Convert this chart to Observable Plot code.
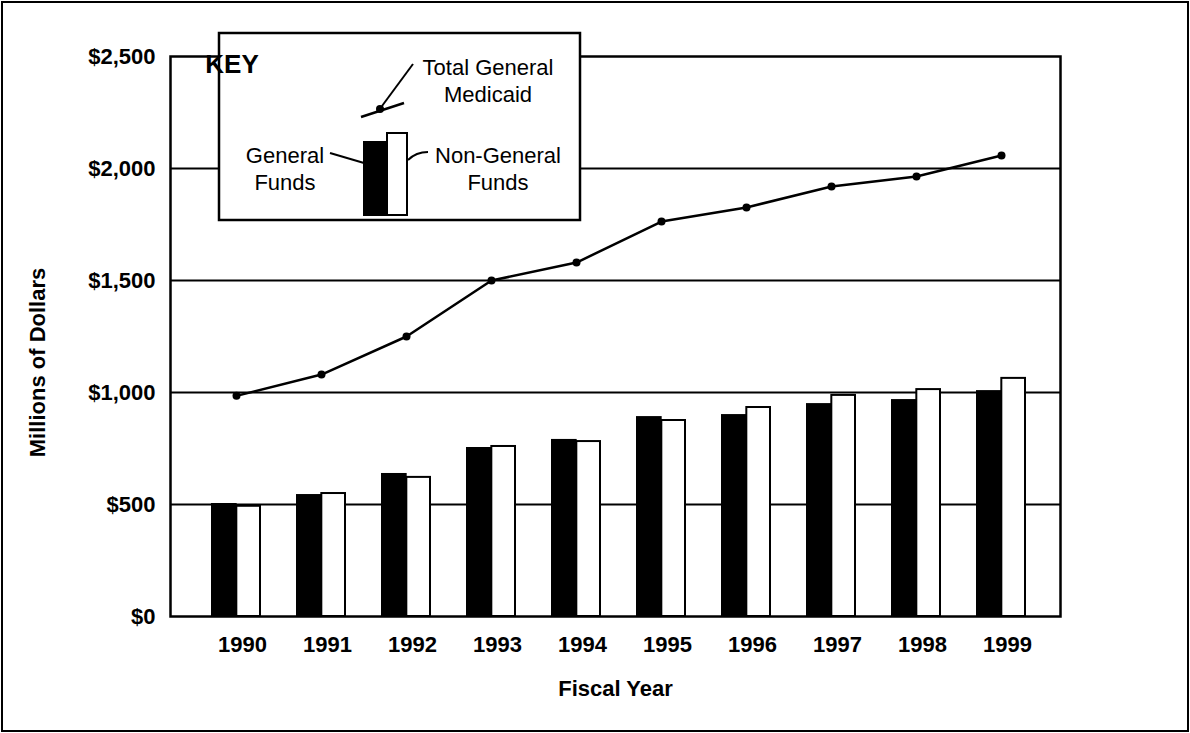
<!DOCTYPE html>
<html><head><meta charset="utf-8">
<script src="https://cdn.jsdelivr.net/npm/d3@7"></script>
<script src="https://cdn.jsdelivr.net/npm/@observablehq/plot@0.6"></script>
<style>
body{margin:0;background:#fff;}
#wrap{position:relative;width:1190px;height:733px;overflow:hidden;background:#fff;}
#border{position:absolute;left:1px;top:1px;width:1184px;height:727px;border:2px solid #000;pointer-events:none;}
svg{display:block;}
</style></head><body><div id="wrap"><div id="border"></div></div>
<script>
// ---- data ----
const years = [1990, 1991, 1992, 1993, 1994, 1995, 1996, 1997, 1998, 1999];
const generalFunds = [500, 540, 634, 750, 786, 888, 897, 946, 964, 1004];
const nonGeneralFunds = [492, 549, 621, 759, 781, 875, 933, 987, 1013, 1063];
const totalGeneralMedicaid = [985, 1080, 1250, 1500, 1580, 1763, 1826, 1920, 1964, 2058];
const yTicks = [0, 500, 1000, 1500, 2000, 2500];
const gridValues = [500, 1000, 1500, 2000];
const xTitle = "Fiscal Year";
const yTitle = "Millions of Dollars";
const keyTitle = "KEY";
const keyTotal = ["Total General", "Medicaid"];
const keyGeneral = ["General", "Funds"];
const keyNonGeneral = ["Non-General", "Funds"];

const FONT = '"Liberation Sans", Arial, Helvetica, sans-serif';

const genRows = years.map((y, i) => ({year: y, value: generalFunds[i]}));
const nonRows = years.map((y, i) => ({year: y, value: nonGeneralFunds[i]}));
const totRows = years.map((y, i) => ({year: y, value: totalGeneralMedicaid[i]}));

const xRange = [174, 1064];
const xPad = 0.43;
const half = d3.scaleBand().domain(years).range(xRange).padding(xPad).bandwidth() / 2;

const chart = Plot.plot({
  width: 1190, height: 733,
  marginLeft: 170, marginRight: 130, marginTop: 56, marginBottom: 117,
  style: {fontFamily: FONT, fontSize: "22px", fontWeight: "bold", color: "#000", background: "transparent"},
  x: {type: "band", domain: years, range: xRange, padding: xPad, label: null},
  y: {domain: [0, 2500], label: null},
  marks: [
    Plot.gridY(gridValues, {stroke: "#000", strokeOpacity: 1, strokeWidth: 2}),
    Plot.frame({stroke: "#000", strokeWidth: 2.5}),
    Plot.axisY(yTicks, {tickSize: 0, tickPadding: 15, tickFormat: d => "$" + d3.format(",")(d), fontSize: 22}),
    Plot.axisX({tickSize: 0, tickPadding: 20, dx: 6, tickFormat: d => String(d), fontSize: 22}),
    Plot.barY(genRows, {x: "year", y: "value", fill: "#000", stroke: "#000", strokeWidth: 2, insetRight: half}),
    Plot.barY(nonRows, {x: "year", y: "value", fill: "#fff", stroke: "#000", strokeWidth: 2, insetLeft: half}),
    Plot.line(totRows, {x: "year", y: "value", stroke: "#000", strokeWidth: 2.5}),
    Plot.dot(totRows, {x: "year", y: "value", r: 4, fill: "#000", stroke: "none"}),
    Plot.text([xTitle], {frameAnchor: "bottom", textAnchor: "middle", dy: 79, fontSize: 22, fontWeight: "bold"}),
    Plot.text([yTitle], {frameAnchor: "left", textAnchor: "middle", dx: -133, dy: 26, rotate: -90, fontSize: 22, fontWeight: "bold"})
  ]
});
document.getElementById("wrap").prepend(chart);

// ---- key (legend) ----
const svg = d3.select(chart);
const g = svg.append("g").attr("font-family", FONT).attr("font-weight", "normal").attr("fill", "#000");
g.append("rect").attr("x", 219).attr("y", 33).attr("width", 361).attr("height", 187)
  .attr("fill", "#fff").attr("stroke", "#000").attr("stroke-width", 2.5);
g.append("text").attr("x", 232).attr("y", 73).attr("font-size", 26).attr("font-weight", "bold").text(keyTitle);
// total line sample
g.append("line").attr("x1", 361).attr("y1", 117).attr("x2", 404).attr("y2", 103).attr("stroke", "#000").attr("stroke-width", 2.5);
g.append("circle").attr("cx", 380).attr("cy", 109).attr("r", 4).attr("fill", "#000");
g.append("line").attr("x1", 382).attr("y1", 106).attr("x2", 413).attr("y2", 64).attr("stroke", "#000").attr("stroke-width", 2);
keyTotal.forEach((t, i) => g.append("text").attr("x", 488).attr("y", 75 + i * 27).attr("text-anchor", "middle").attr("font-size", 22).text(t));
// bars sample
g.append("rect").attr("x", 364).attr("y", 142).attr("width", 23).attr("height", 73).attr("fill", "#000").attr("stroke", "#000").attr("stroke-width", 2);
g.append("rect").attr("x", 387).attr("y", 133).attr("width", 20).attr("height", 82).attr("fill", "#fff").attr("stroke", "#000").attr("stroke-width", 2);
g.append("path").attr("d", "M330,153 L364,163").attr("stroke", "#000").attr("stroke-width", 2).attr("fill", "none");
g.append("path").attr("d", "M408,160 Q416,152 428,152").attr("stroke", "#000").attr("stroke-width", 2).attr("fill", "none");
keyGeneral.forEach((t, i) => g.append("text").attr("x", 285).attr("y", 163 + i * 27).attr("text-anchor", "middle").attr("font-size", 22).text(t));
keyNonGeneral.forEach((t, i) => g.append("text").attr("x", 498).attr("y", 163 + i * 27).attr("text-anchor", "middle").attr("font-size", 22).text(t));
</script>
</body></html>
